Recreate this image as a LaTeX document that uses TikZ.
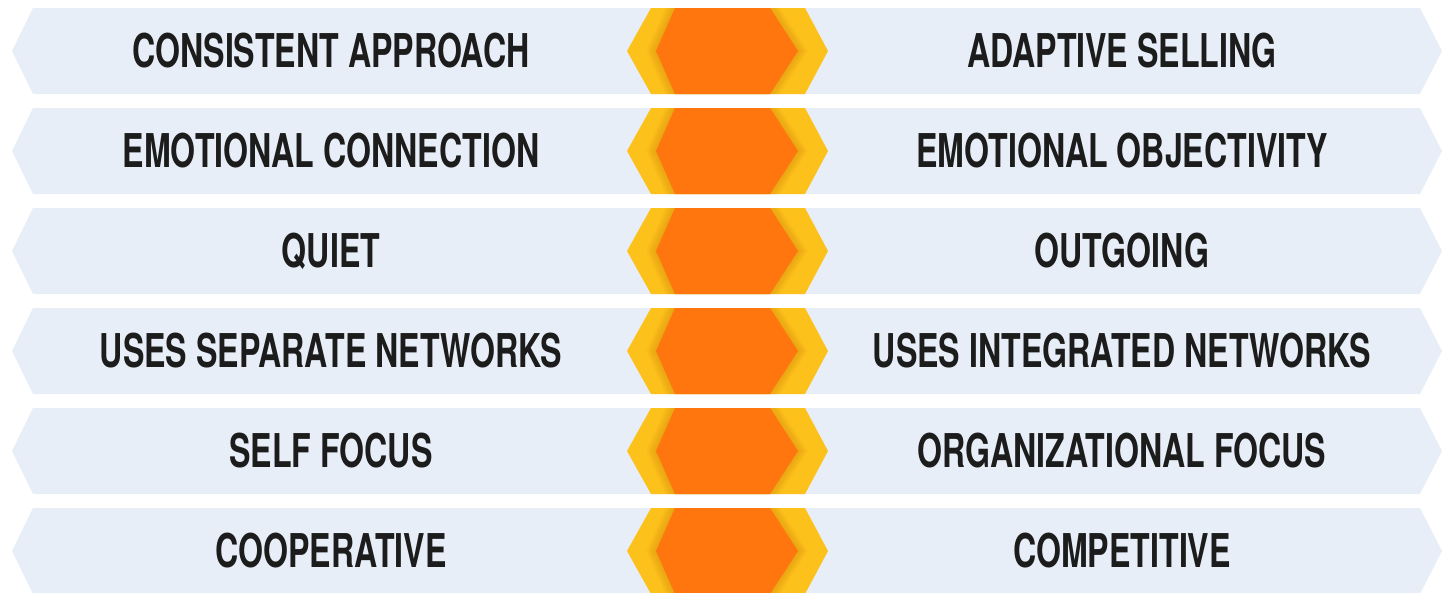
\documentclass[tikz,border=0pt]{standalone}
\usepackage{fontspec}
\setmainfont{TeX Gyre Heros}[FakeStretch=0.69]

\definecolor{bandblue}{HTML}{E8EEF7}
\definecolor{hexyellow}{HTML}{FDC11C}
\definecolor{hexorange}{HTML}{FF760E}
\definecolor{hexshade}{HTML}{D98A10}
\definecolor{labelink}{HTML}{1C1C1C}

\begin{document}
\begin{tikzpicture}[x=0.02cm, y=-0.02cm,
    band/.style={fill=bandblue},
    outerhex/.style={fill=hexyellow},
    innerhex/.style={fill=hexorange},
    hexglow/.style={fill=hexshade, opacity=0.05},
    trait/.style={font=\bfseries\fontsize{26.5}{26.5}\selectfont, text=labelink, inner sep=0pt}]
      \useasboundingbox (0,0) rectangle (1447,592);

      \foreach \i/\lefttrait/\righttrait [evaluate=\i as \m using 51+100*\i] in {
          0/CONSISTENT APPROACH/ADAPTIVE SELLING,
          1/EMOTIONAL CONNECTION/EMOTIONAL OBJECTIVITY,
          2/QUIET/OUTGOING,
          3/USES SEPARATE NETWORKS/USES INTEGRATED NETWORKS,
          4/SELF FOCUS/ORGANIZATIONAL FOCUS,
          5/COOPERATIVE/COMPETITIVE} {
        \fill[band] (12,\m) -- (33,\m-43) -- (1420,\m-43) -- (1442,\m)
          -- (1420,\m+43) -- (33,\m+43) -- cycle;

        \fill[outerhex] (627,\m) -- (651,\m-43) -- (805,\m-43) -- (828,\m)
          -- (805,\m+43) -- (651,\m+43) -- cycle;
        \foreach \s in {1,...,10}
          \fill[hexglow] (656-\s,\m) -- (675-\s,\m-43) -- (770+\s,\m-43) -- (798+\s,\m)
            -- (770+\s,\m+43) -- (675-\s,\m+43) -- cycle;
        \fill[innerhex] (656,\m) -- (675,\m-43) -- (770,\m-43) -- (798,\m)
          -- (770,\m+43) -- (675,\m+43) -- cycle;

        \node[trait] (left\i) at (331,\m) {\lefttrait};
        \node[trait] (right\i) at (1122,\m) {\righttrait};
      }
    \end{tikzpicture}
\end{document}
